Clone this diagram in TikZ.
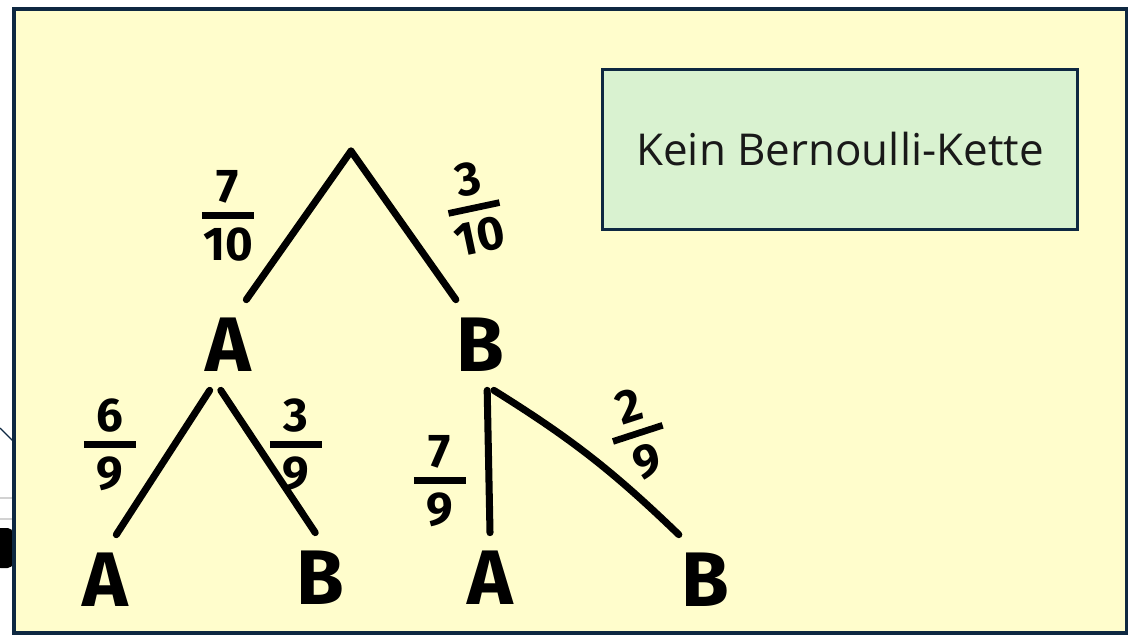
\documentclass[tikz,border=0pt]{standalone}
\usepackage{fontspec}
\setmainfont{Fira Sans}
\newfontfamily\boxfont{Open Sans}
\usetikzlibrary{positioning}

\definecolor{frameblue}{HTML}{0E2841}
\definecolor{paper}{HTML}{FFFDCC}
\definecolor{boxgreen}{HTML}{D9F2D0}

% handgeschriebener Bruch
\newcommand{\bruch}[2]{\shortstack{#1\\[2pt]\rule{1.1em}{0.14em}\\[2pt]#2}}

\begin{document}
\begin{tikzpicture}[x=0.02cm, y=-0.02cm,
    stroke/.style={line width=4pt, line cap=round},
    letter/.style={rectangle, minimum width=1.4cm, minimum height=1.8cm, inner sep=0pt,
      font=\fontsize{44}{44}\selectfont\bfseries},
    prob/.style={inner sep=0pt, font=\fontsize{27}{27}\selectfont\bfseries}]
        \useasboundingbox (0,0) rectangle (1128,635);
        \fill[white] (0,0) rectangle (1128,635);

        % Reste am linken Rand
        \draw[frameblue, line width=0.8pt] (0,428) -- (14,442);
        \draw[gray!35, line width=0.8pt] (0,498) -- (14,498);
        \draw[gray!35, line width=0.8pt] (0,519) -- (14,519);
        \fill[black, rounded corners=3pt] (-5,528) rectangle (13,568);

        % Rahmen
        \draw[frameblue, fill=paper, line width=2.2pt] (14,9) rectangle (1127,633);

        % Hinweis
        \node[draw=frameblue, fill=boxgreen, line width=1.7pt, minimum width=9.52cm,
          minimum height=3.22cm, font=\boxfont\fontsize{25}{25}\selectfont,
          text=black!90] (hint) at (840,149.5) {Kein Bernoulli-Kette};

        % Baum
        \coordinate (root) at (351,151);
        \node[letter] (A1) at (228,345) {A};
        \node[letter] (B1) at (480,345) {B};
        \node[letter] (A2) at (105,580) {A};
        \node[letter] (B2) at (320,578) {B};
        \node[letter] (A3) at (490,578) {A};
        \node[letter] (B3) at (705,580) {B};

        \draw[stroke] (root) -- (A1.68);
        \draw[stroke] (root) -- (B1.118);
        \draw[stroke] (A1.248) -- (A2.76);
        \draw[stroke] (A1.261) -- (B2.96);
        \draw[stroke] (B1.279) -- (A3.north);
        \draw[stroke] (B1.287) to[bend left=6] (B3.120);

        % Wahrscheinlichkeiten
        \node[prob] (pA1) at (228,216) {\bruch{7}{10}};
        \node[prob, rotate=12] (pB1) at (474,208) {\bruch{3}{10}};
        \node[prob] (pA2) at (110,445) {\bruch{6}{9}};
        \node[prob] (pB2) at (296,445) {\bruch{3}{9}};
        \node[prob] (pA3) at (440,481) {\bruch{7}{9}};
        \node[prob, rotate=18] (pB3) at (638,434) {\bruch{2}{9}};
      \end{tikzpicture}
\end{document}
